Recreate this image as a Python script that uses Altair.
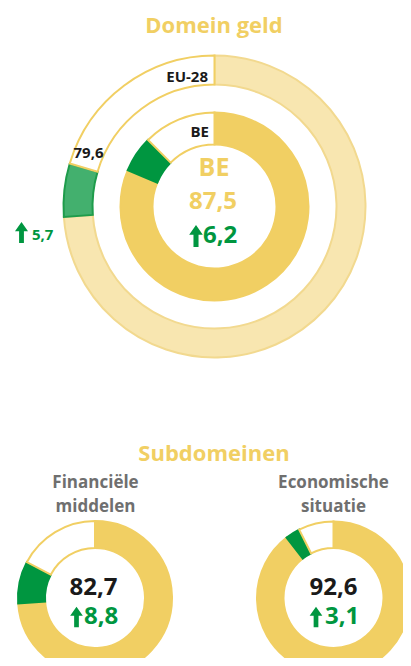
import altair as alt
import pandas as pd

# ---- data ----
ring_names = ["EU-28", "BE", "Financiële middelen", "Economische situatie"]
scores = [79.6, 87.5, 82.7, 92.6]
changes = [5.7, 6.2, 8.8, 3.1]

main_title = "Domein geld"
sub_title = "Subdomeinen"
sub_labels = ["Financiële\nmiddelen", "Economische\nsituatie"]
ring_labels = ["EU-28", "BE"]


def fmt(v):
    return f"{v:.1f}".replace(".", ",")


rows = []
for name, s, c in zip(ring_names, scores, changes):
    pre = "eu_" if name == "EU-28" else ""
    rows.append(dict(ring=name, seg=0, kind=pre + "base", value=round(s - c, 1)))
    rows.append(dict(ring=name, seg=1, kind=pre + "gain", value=c))
    rows.append(dict(ring=name, seg=2, kind=pre + "rest", value=round(100 - s, 1)))
df = pd.DataFrame(rows)

# ---- styling ----
YELLOW = "#f1cf63"
LIGHT = "#f8e6b0"
GREEN = "#009640"
FONT = "Open Sans"
kinds = ["eu_base", "eu_gain", "eu_rest", "base", "gain", "rest"]
fills = [LIGHT, "#43b06e", "#ffffff", YELLOW, GREEN, "#ffffff"]
strokes = ["#f2d98f", "#1e9c4b", YELLOW, YELLOW, GREEN, YELLOW]

ARROW = "M0,-1 L0.62,-0.12 L0.23,-0.12 L0.23,1 L-0.23,1 L-0.23,-0.12 L-0.62,-0.12 Z"


def ring(name, cx, cy, r0, r1):
    return (
        alt.Chart(df)
        .transform_filter(alt.datum.ring == name)
        .mark_arc(x=cx, y=cy, innerRadius=r0, outerRadius=r1, strokeWidth=2)
        .encode(
            theta=alt.Theta("value:Q", stack=True, scale=alt.Scale(domain=[0, 100])),
            order=alt.Order("seg:Q"),
            color=alt.Color("kind:N", scale=alt.Scale(domain=kinds, range=fills), legend=None),
            stroke=alt.Stroke("kind:N", scale=alt.Scale(domain=kinds, range=strokes), legend=None),
        )
    )


def label(txt, x, y, size, color, align="center", weight="bold"):
    return (
        alt.Chart(pd.DataFrame({"t": [txt]}))
        .mark_text(
            x=x, y=y, fontSize=size, color=color, align=align, baseline="alphabetic",
            font=FONT, fontWeight=weight, lineBreak="\n", lineHeight=24,
        )
        .encode(text="t:N")
    )


def arrow(x, y, size):
    return (
        alt.Chart(pd.DataFrame({"a": [1]}))
        .mark_point(shape=ARROW, filled=True, x=x, y=y, size=size, color=GREEN, opacity=1, strokeWidth=0)
        .encode(opacity=alt.value(1))
    )


layers = [
    ring("EU-28", 206.5, 198.5, 122, 151),
    ring("BE", 206.5, 198.5, 62, 94),
    ring("Financiële middelen", 87, 590, 50, 77),
    ring("Economische situatie", 325.5, 590, 50, 76.5),
    label(main_title, 206, 25, 22, YELLOW),
    label(ring_labels[0], 200, 74, 15, "#1a1a1a", align="right"),
    label(fmt(scores[0]), 80.5, 150, 15, "#1a1a1a"),
    label(fmt(changes[0]), 24, 232, 15, GREEN, align="left"),
    arrow(13.5, 224.5, 441),
    label(ring_labels[1], 201, 129, 15, "#1a1a1a", align="right"),
    label(ring_labels[1], 206, 168, 25, YELLOW),
    label(fmt(scores[1]), 205, 201, 24, YELLOW),
    arrow(188, 228, 484),
    label(fmt(changes[1]), 195, 235, 24, GREEN, align="left"),
    label(sub_title, 206, 453, 22, YELLOW),
    label(sub_labels[0], 87.5, 480, 17, "#6f6f6f"),
    label(sub_labels[1], 325.5, 480, 17, "#6f6f6f"),
    label(fmt(scores[2]), 85.5, 587, 24, "#1a1a1a"),
    label(fmt(scores[3]), 325.5, 587, 24, "#1a1a1a"),
    arrow(68.5, 609, 420),
    label(fmt(changes[2]), 76, 616, 24, GREEN, align="left"),
    arrow(308, 609, 420),
    label(fmt(changes[3]), 317, 616, 24, GREEN, align="left"),
]

chart = (
    alt.layer(*layers)
    .properties(width=395, height=650, autosize=alt.AutoSizeParams(type="none"), padding=0, background="white")
    .configure_view(stroke=None)
)

chart.save("out.html", embed_options={"renderer": "svg", "actions": False})
